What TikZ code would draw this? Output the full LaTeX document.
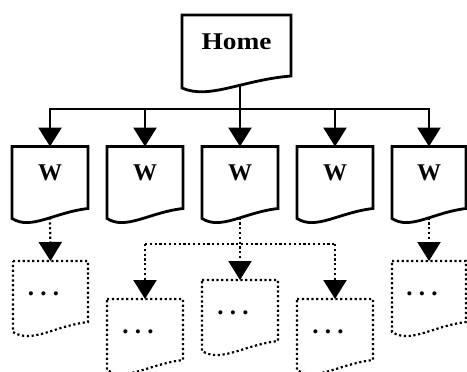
\documentclass[tikz,border=0pt]{standalone}
\usepackage{fontspec}
\setmainfont{Liberation Serif}
\usetikzlibrary{arrows.meta}

% Document-shaped box with a wavy bottom edge.
% #1 name, #2 left, #3 top, #4 width, #5 left height, #6 right height,
% #7 outline style, #8 label style, #9 label
\newcommand\docbox[9]{%
  \begin{scope}[shift={(#2,#3)}]
    \draw[#7] (0,0) -- (#4,0) -- (#4,#6)
      .. controls (0.55*#4,#6+4) and (0.25*#4,#5+12) .. (0,#5) -- cycle;
    \coordinate (#1-n) at (0.5*#4,0);
    \coordinate (#1-s) at (0.5*#4,{(#5+#6)/2+4});
    \node[#8] (#1) at (0.5*#4,34) {#9};
  \end{scope}}

\begin{document}
\begin{tikzpicture}[x=1pt,y=-1pt,
    solidbox/.style={line width=2.8pt,line join=miter},
    dotbox/.style={line width=2.2pt,dash pattern=on 2.2pt off 2.6pt},
    hometext/.style={anchor=base,inner sep=0pt,font=\fontsize{24}{24}\selectfont\bfseries},
    wtext/.style={anchor=base,inner sep=0pt,font=\fontsize{24}{24}\selectfont\bfseries},
    dottext/.style={anchor=base,inner sep=0pt,xshift=-7pt,font=\fontsize{25}{25}\selectfont\bfseries},
    link/.style={line width=2.8pt,-{Triangle[width=23pt,length=19pt]}},
    dotlink/.style={line width=2.2pt,dash pattern=on 2.2pt off 2.6pt,-{Triangle[width=23pt,length=19pt]}},
    dotline/.style={line width=2.2pt,dash pattern=on 2.2pt off 2.6pt}]
  \useasboundingbox (0,0) rectangle (467,372);

  % top page
  \docbox{home}{182}{15}{109}{73}{61}{solidbox}{hometext}{\scalebox{1.14}[1]{Home}}

  % first level pages
  \docbox{w1}{12}{146.5}{76}{72}{62}{solidbox}{wtext}{W}
  \docbox{w2}{107}{146.5}{76}{72}{62}{solidbox}{wtext}{W}
  \docbox{w3}{202}{146.5}{76}{72}{62}{solidbox}{wtext}{W}
  \docbox{w4}{297}{146.5}{76}{72}{62}{solidbox}{wtext}{W}
  \docbox{w5}{392}{146.5}{74}{72}{62}{solidbox}{wtext}{W}

  % second level pages
  \docbox{dA}{13}{261}{75}{71}{61}{dotbox}{dottext}{.\ .\ .}
  \docbox{dB}{107}{299}{76}{71}{61}{dotbox}{dottext}{.\ .\ .}
  \docbox{dC}{202}{280}{76}{71}{61}{dotbox}{dottext}{.\ .\ .}
  \docbox{dD}{297}{299}{76}{71}{61}{dotbox}{dottext}{.\ .\ .}
  \docbox{dE}{392}{261}{74}{71}{61}{dotbox}{dottext}{.\ .\ .}

  % solid tree from Home
  \coordinate (hub) at (w3-n |- 0,109);
  \draw[line width=2.8pt] (hub |- home-s) -- (hub);
  \foreach \k in {w1,w2,w3,w4,w5}
    \draw[link] (hub) -| (\k-n);

  % dotted links to the second level
  \coordinate (split) at (w3-n |- 0,244);
  \draw[dotlink] (w1-s) -- (dA-n);
  \draw[dotlink] (w5-s) -- (dE-n);
  \draw[dotlink] (w3-s) -- (dC-n);
  \draw[dotline] (dB-n |- split) -- (dD-n |- split);
  \draw[dotlink] (dB-n |- split) -- (dB-n);
  \draw[dotlink] (dD-n |- split) -- (dD-n);
\end{tikzpicture}
\end{document}
